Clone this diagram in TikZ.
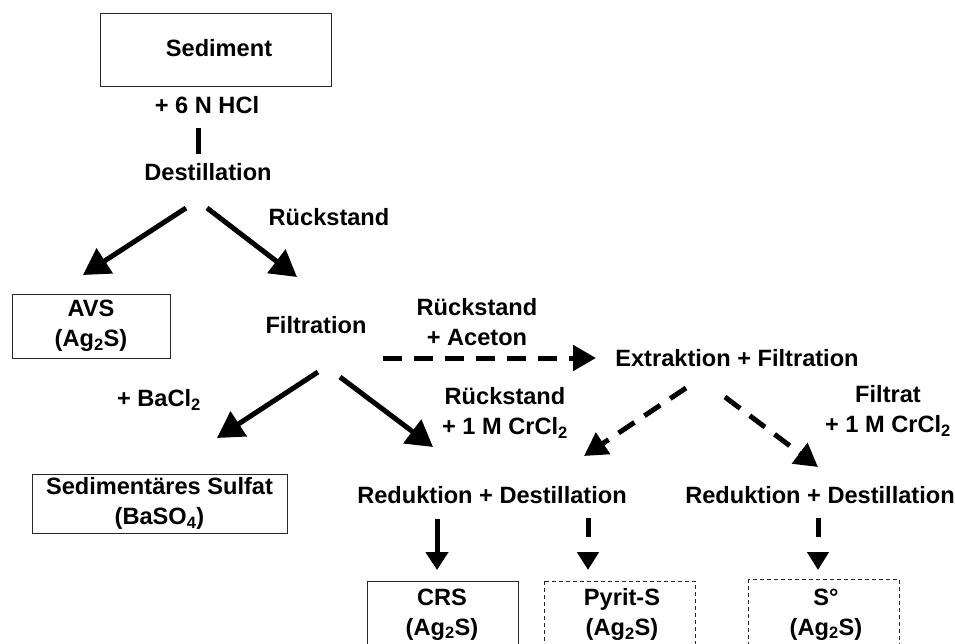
\documentclass[tikz,border=0pt]{standalone}
\usepackage{fontspec}
\setmainfont{Liberation Sans}
\usetikzlibrary{arrows.meta}
\begin{document}
\begin{tikzpicture}[x=1pt,y=-1pt,
  every node/.style={font=\bfseries\fontsize{23.6}{30}\selectfont, align=center, inner sep=0pt},
  box/.style={draw=black!85, line width=0.9pt},
  dbox/.style={draw=black!85, line width=0.9pt, dash pattern=on 4pt off 3pt},
  flow/.style={line width=5pt, -{Triangle[length=26pt,width=29pt]}},
  dflow/.style={line width=5pt, dash pattern=on 19pt off 12pt, -{Triangle[length=23pt,width=25pt]}},
  vflow/.style={line width=5pt, -{Triangle[length=18pt,width=22pt]}},
  vdflow/.style={line width=5pt, dash pattern=on 19pt off 15pt, -{Triangle[length=18pt,width=21pt]}}]
\useasboundingbox (0,0) rectangle (955,644);
\begin{scope}
\clip (0,0) rectangle (955,644);

% boxes
\node[box, minimum width=231pt, minimum height=73pt] (sed) at (215.5,49.5) {};
\node (sedtxt) at (219,48) {Sediment};
\node[box, minimum width=158pt, minimum height=64pt] (avs) at (91,326) {AVS\\(Ag\textsubscript{2}S)};
\node[box, minimum width=255pt, minimum height=59pt] (sulf) at (159.5,503.5) {Sedimentäres Sulfat\\(BaSO\textsubscript{4})};
\draw[box] (367,581) rectangle (518,660);
\draw[dbox] (544,581) rectangle (695,660);
\draw[dbox] (748,579) rectangle (899,660);
\node (crs) at (442,614.5) {CRS\\(Ag\textsubscript{2}S)};
\node (pyr) at (622,614.5) {Pyrit-S\\(Ag\textsubscript{2}S)};
\node (s0) at (826,614.5) {S°\\(Ag\textsubscript{2}S)};

% process steps and reagent labels
\node (hcl) at (207,105) {+ 6 N HCl};
\node (dest) at (208,172) {Destillation};
\node (rs1) at (329,217) {Rückstand};
\node (filt) at (316,325) {Filtration};
\node (rs2) at (477,322) {Rückstand\\+ Aceton};
\node (extr) at (737,358) {Extraktion + Filtration};
\node (bacl) at (159,400) {+ BaCl\textsubscript{2}};
\node (rs3) at (505,413) {Rückstand\\+ 1 M CrCl\textsubscript{2}};
\node (filtrat) at (888,411) {Filtrat\\+ 1 M CrCl\textsubscript{2}};
\node (red1) at (492,495) {Reduktion + Destillation};
\node (red2) at (820,495) {Reduktion + Destillation};

% connector end points
\coordinate (l1a) at (198,128); \coordinate (l1b) at (198,154);
\coordinate (d1a) at (186,208); \coordinate (d1b) at (83,275);
\coordinate (d2a) at (207,208); \coordinate (d2b) at (297,277);
\coordinate (f1a) at (318,372); \coordinate (f1b) at (217,438);
\coordinate (f2a) at (340,377); \coordinate (f2b) at (433,447);
\coordinate (h1a) at (383,358); \coordinate (h1b) at (596,358);
\coordinate (e1a) at (686,388); \coordinate (e1b) at (584,456);
\coordinate (e2a) at (725,397); \coordinate (e2b) at (818,467);
\coordinate (v1a) at (437,519); \coordinate (v1b) at (437,570);
\coordinate (v2a) at (588,518); \coordinate (v2b) at (588,570);
\coordinate (v3a) at (818,518); \coordinate (v3b) at (818,570);

% connectors
\draw[line width=5pt] (l1a) -- (l1b);
\draw[flow] (d1a) -- (d1b);
\draw[flow] (d2a) -- (d2b);
\draw[flow] (f1a) -- (f1b);
\draw[flow] (f2a) -- (f2b);
\draw[dflow] (h1a) -- (h1b);
\draw[dflow] (e1a) -- (e1b);
\draw[dflow] (e2a) -- (e2b);
\draw[vflow] (v1a) -- (v1b);
\draw[vdflow] (v2a) -- (v2b);
\draw[vdflow] (v3a) -- (v3b);
\end{scope}
\end{tikzpicture}
\end{document}
